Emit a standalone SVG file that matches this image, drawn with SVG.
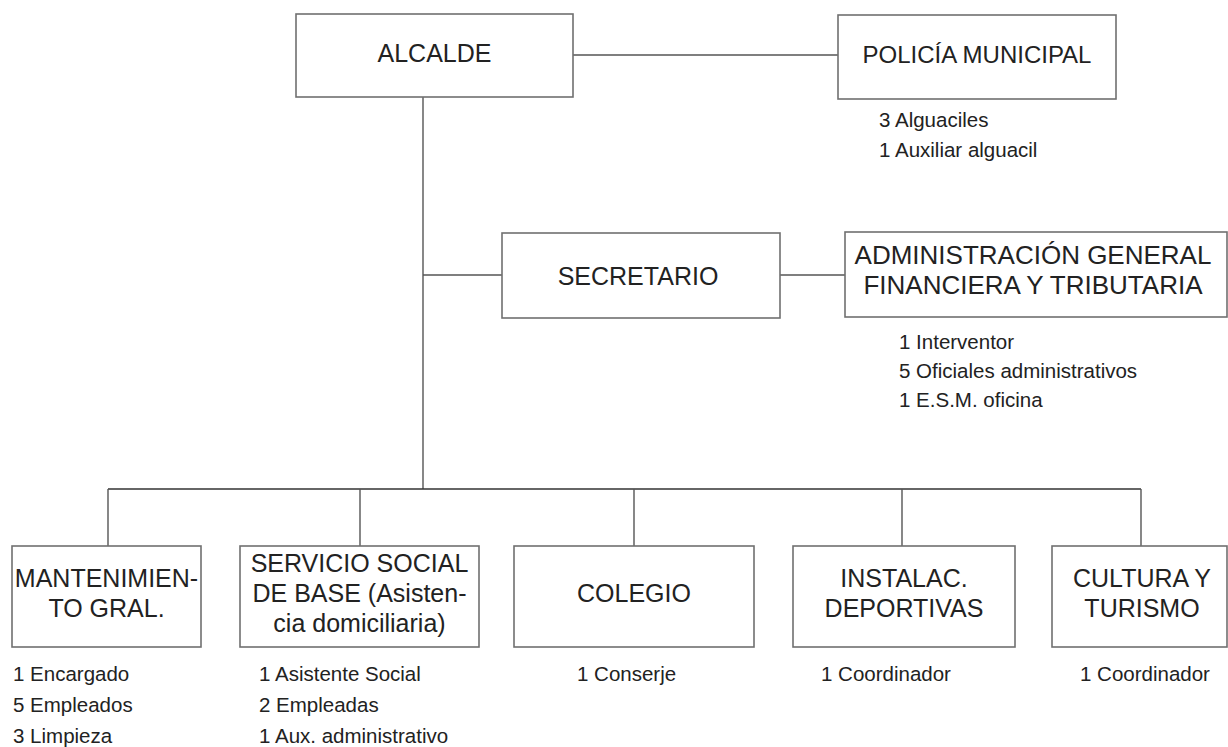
<svg xmlns="http://www.w3.org/2000/svg" width="1228" height="747" viewBox="0 0 1228 747">
<style>
.box{fill:#fff;stroke:#707070;stroke-width:1.6}
.t{font-family:"Liberation Sans",Arial,sans-serif;font-size:25px;fill:#222;text-anchor:middle}
.s{font-family:"Liberation Sans",Arial,sans-serif;font-size:20.5px;fill:#222}
.c{stroke:#555;stroke-width:1.4;fill:none}
.bar{stroke:#333;stroke-width:1.6;fill:none}
</style>
<rect width="1228" height="747" fill="#fff"/>
<g id="connectors">
<line class="c" x1="573" y1="55" x2="838" y2="55"/>
<line class="c" x1="423" y1="97" x2="423" y2="489"/>
<line class="c" x1="423" y1="275" x2="502" y2="275"/>
<line class="c" x1="780" y1="275" x2="845" y2="275"/>
<line class="bar" x1="108" y1="489" x2="1141" y2="489"/>
<line class="c" x1="108" y1="489" x2="108" y2="546"/>
<line class="c" x1="360" y1="489" x2="360" y2="546"/>
<line class="c" x1="634" y1="489" x2="634" y2="546"/>
<line class="c" x1="902" y1="489" x2="902" y2="546"/>
<line class="c" x1="1141" y1="489" x2="1141" y2="546"/>
</g>
<g id="alcalde">
<rect class="box" x="296" y="14" width="277" height="83"/>
<text class="t" x="434.5" y="62">ALCALDE</text>
</g>
<g id="policia">
<rect class="box" x="838" y="15" width="278" height="84"/>
<text class="t" x="977" y="63" style="font-size:24px">POLICÍA MUNICIPAL</text>
<text class="s" x="879" y="127">3 Alguaciles</text>
<text class="s" x="879" y="157">1 Auxiliar alguacil</text>
</g>
<g id="secretario">
<rect class="box" x="502" y="233" width="278" height="85"/>
<text class="t" x="638" y="285">SECRETARIO</text>
</g>
<g id="administracion">
<rect class="box" x="845" y="232" width="382" height="85"/>
<text class="t" x="1033" y="264" style="font-size:26px">ADMINISTRACIÓN GENERAL</text>
<text class="t" x="1033" y="294" style="font-size:26px">FINANCIERA Y TRIBUTARIA</text>
<text class="s" x="899" y="349">1 Interventor</text>
<text class="s" x="899" y="378">5 Oficiales administrativos</text>
<text class="s" x="899" y="407">1 E.S.M. oficina</text>
</g>
<g id="mantenimiento">
<rect class="box" x="12" y="546" width="189" height="101"/>
<text class="t" x="106.5" y="587">MANTENIMIEN-</text>
<text class="t" x="106.5" y="617">TO GRAL.</text>
<text class="s" x="13" y="681">1 Encargado</text>
<text class="s" x="13" y="712">5 Empleados</text>
<text class="s" x="13" y="743">3 Limpieza</text>
</g>
<g id="servicio-social">
<rect class="box" x="240" y="546" width="239" height="101"/>
<text class="t" x="359.5" y="572">SERVICIO SOCIAL</text>
<text class="t" x="359.5" y="602">DE BASE (Asisten-</text>
<text class="t" x="359.5" y="632">cia domiciliaria)</text>
<text class="s" x="259" y="681">1 Asistente Social</text>
<text class="s" x="259" y="712">2 Empleadas</text>
<text class="s" x="259" y="743">1 Aux. administrativo</text>
</g>
<g id="colegio">
<rect class="box" x="514" y="546" width="240" height="101"/>
<text class="t" x="634" y="602">COLEGIO</text>
<text class="s" x="577" y="681">1 Conserje</text>
</g>
<g id="instalaciones">
<rect class="box" x="793" y="546" width="222" height="101"/>
<text class="t" x="904" y="587">INSTALAC.</text>
<text class="t" x="904" y="617">DEPORTIVAS</text>
<text class="s" x="821" y="681">1 Coordinador</text>
</g>
<g id="cultura">
<rect class="box" x="1052" y="546" width="175" height="101"/>
<text class="t" x="1142" y="587">CULTURA Y</text>
<text class="t" x="1142" y="617">TURISMO</text>
<text class="s" x="1080" y="681">1 Coordinador</text>
</g>
</svg>
